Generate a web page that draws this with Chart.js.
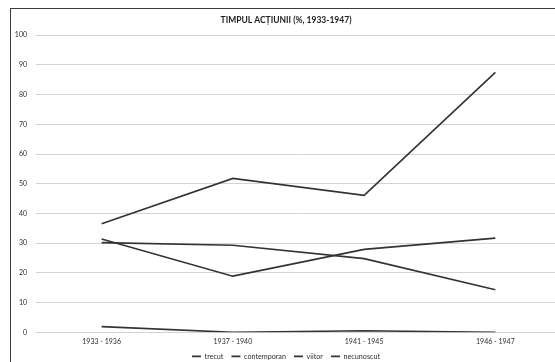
<!DOCTYPE html>
<html>
<head>
<meta charset="utf-8">
<script src="https://cdn.jsdelivr.net/npm/chart.js@4/dist/chart.umd.min.js"></script>
<style>
  html, body { margin: 0; padding: 0; background: #fff; overflow: hidden; width: 555px; height: 362px; }
  #frame { position: absolute; left: 10px; top: 8px; width: 600px; height: 400px;
           border-left: 1.5px solid #3c3c3c; border-top: 1.5px solid #3c3c3c; }
  #wrap { position: absolute; left: 0; top: 0; width: 550px; height: 361px; }
</style>
</head>
<body>
<div id="frame"><div id="wrap"><canvas id="c"></canvas></div></div>
<script>
const titleText = 'TIMPUL ACȚIUNII (%, 1933-1947)';
const periods = ['1933 - 1936', '1937 - 1940', '1941 - 1945', '1946 - 1947'];
const seriesNames = ['trecut', 'contemporan', 'viitor', 'necunoscut'];
const trecut = [30.2, 29.3, 24.8, 14.3];
const contemporan = [36.5, 51.8, 46.1, 87.5];
const viitor = [31.4, 18.9, 27.9, 31.7];
const necunoscut = [1.9, 0, 0.5, 0];
const yTicks = [0, 10, 20, 30, 40, 50, 60, 70, 80, 90, 100];

const lineColor = '#333333';
const textColor = '#2e2e2e';
const fontFamily = 'Lato, "Open Sans", sans-serif';

const values = [trecut, contemporan, viitor, necunoscut];

new Chart(document.getElementById('c'), {
  type: 'line',
  data: {
    labels: periods,
    datasets: seriesNames.map((name, i) => ({
      label: name,
      data: values[i],
      borderColor: lineColor,
      backgroundColor: lineColor,
      borderWidth: 1.6,
      pointRadius: 0,
      pointHoverRadius: 0,
      tension: 0,
      fill: false
    }))
  },
  options: {
    responsive: true,
    maintainAspectRatio: false,
    animation: false,
    events: [],
    layout: { padding: 0 },
    plugins: {
      title: {
        display: true,
        text: titleText,
        color: '#1e1e1e',
        font: { family: fontFamily, size: 8.5, weight: 'bold', lineHeight: 1.2 },
        padding: { top: 5.8, bottom: 10.2 }
      },
      legend: {
        display: true,
        position: 'bottom',
        labels: {
          color: textColor,
          font: { family: fontFamily, size: 7.2 },
          usePointStyle: true,
          pointStyle: 'line',
          pointStyleWidth: 9,
          boxHeight: 7,
          padding: 8
        }
      },
      tooltip: { enabled: false }
    },
    scales: {
      x: {
        offset: true,
        grid: { display: false, drawTicks: false, offset: true },
        border: { display: false },
        ticks: {
          color: textColor,
          font: { family: fontFamily, size: 7 },
          padding: 5.5,
          maxRotation: 0,
          autoSkip: false
        },
        afterFit(scale) { scale.height = 12.5; }
      },
      y: {
        min: 0,
        max: 100,
        afterBuildTicks(scale) { scale.ticks = yTicks.map(v => ({ value: v })); },
        grid: { color: '#d3d3d3', lineWidth: 1, drawTicks: false },
        border: { display: false },
        ticks: {
          color: textColor,
          font: { family: fontFamily, size: 7 },
          padding: 9
        },
        afterFit(scale) { scale.width = 25; }
      }
    }
  }
});
</script>
</body>
</html>
